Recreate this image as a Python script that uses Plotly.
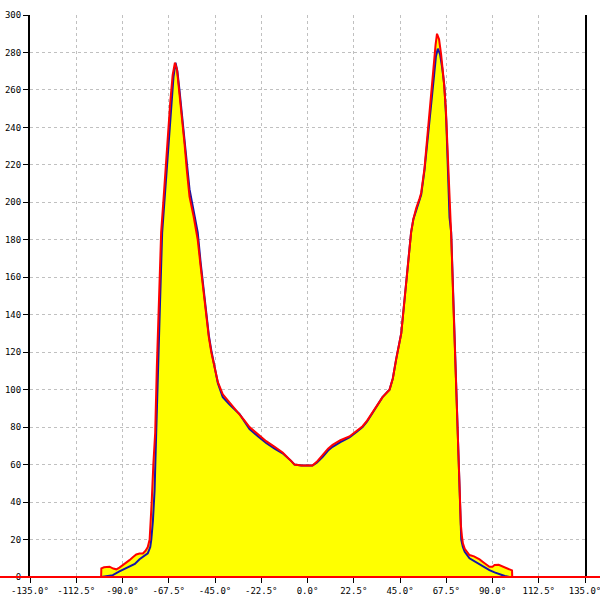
import plotly.graph_objects as go

# Blue series (angle in degrees, value)
blue_x = [-100.4, -97, -94.7, -91.5, -88.5, -86.6, -84, -81.7, -79.5, -77.7, -76.5, -76, -75.2, -74.4,
          -73.6, -72.8, -71.7, -70.7, -69.6, -68.5, -67.5, -66.3, -65.2, -64.2, -63.3, -62.3, -61, -59.8,
          -58.6, -57.4, -56, -55, -53.4, -52, -50.9, -49.3, -48, -46.8, -45, -43.6, -41.2, -37.9, -33.1,
          -28.2, -24, -20.1, -16, -12.1, -8, -6.3, -3, 0, 2.4, 4.5, 7.3, 10, 12.2, 16, 20.4, 24, 26.8, 29,
          31.7, 34, 36.5, 39.9, 41.5, 43.1, 45.6, 47.2, 48.8, 50.4, 51.5, 52.9, 54.5, 55.3, 56.9, 58, 59.4,
          60.5, 61.6, 62.5, 63.4, 64.5, 65.5, 66.6, 67.5, 68.3, 69.1, 69.9, 71, 72, 73.1, 73.9, 74.4, 74.8,
          75.6, 76.5, 78.8, 81, 83.7, 86, 88.5, 91, 93.4, 96, 98.3, 99.7]
blue_y = [0, 0.5, 1, 3, 4.5, 5.5, 7, 9.5, 11, 12.6, 16, 20, 30, 46,
          77, 112, 148, 184, 201, 220, 233, 251, 267, 274.5, 270, 260, 247, 233,
          220, 207, 199, 193, 184, 168, 157, 139, 129, 121, 110, 103.5, 96, 92, 87,
          79, 75, 71.5, 68.5, 66, 62, 60, 59.5, 59.5, 59.5, 61, 64, 67.5, 69.5, 72, 74.5, 77.5, 80, 83,
          87.5, 92, 96, 100, 106, 116, 130, 148, 166, 184, 191, 196, 201, 204, 217, 230, 244,
          256, 268, 278, 282, 279, 272, 262, 244, 217, 192, 184, 148, 112, 77, 41, 28, 20,
          16, 13.5, 10, 8.5, 7, 5, 3.7, 2.5, 1.4, 0.5, 0, 0]

# Red series
red_x = [-100.4, -100.3, -99, -96.3, -94.5, -93, -91.5, -89.8, -88, -86.6, -85, -83.3, -81.7, -80.1,
         -78.8, -77.7, -76.8, -76.5, -75.8, -75, -74.1, -73.3, -72.2, -71.2, -70.1, -69, -68,
         -66.8, -65.6, -64.5, -63.5, -62.3, -61, -59.8, -58.6, -57.4, -55.5, -53.4, -52, -50.9, -49.3,
         -48, -46.8, -45, -43.6, -41.2, -38.5, -35, -31, -28.2, -24, -20.1, -16, -12.1, -8, -6.3, -3,
         0, 2.4, 4.5, 7.3, 10, 12.2, 16, 20.4, 24, 26.8, 29, 31.7, 34, 36.5, 39.9, 41.5, 43.1, 45.6,
         47.2, 48.8, 50.4, 51.5, 52.9, 54.5, 55.3, 56.9, 58, 59.4, 60.5, 61.6, 62.3, 63, 64, 65, 66.3,
         67.3, 68.3, 69.1, 70, 71, 72.1, 73.2, 74, 74.6, 75.1, 75.6, 76.5, 78.8, 81, 83.7, 86, 88.5, 90,
         91, 93, 95, 98.3, 99.5, 99.6]
red_y = [0, 4.6, 5.2, 5.5, 4.5, 4.1, 5, 6.4, 7.5, 9, 10.5, 12, 12.5, 12.6,
         14, 16, 20, 25, 40, 60, 77, 112, 148, 184, 201, 220, 235,
         253, 268, 274.5, 271, 259, 245, 231, 216, 203, 193, 180, 166, 155, 138,
         128, 120, 110, 104, 97.5, 94, 89, 84, 80, 76, 72.5, 69.5, 66.5, 62, 60, 59.5,
         59.5, 59.5, 61.5, 65, 68.5, 70.5, 73, 75, 78, 80.5, 83.5, 88, 92.5, 96, 100, 106, 116, 130,
         148, 166, 184, 191, 197, 202, 205, 218, 232, 248, 262, 275, 284, 290, 287, 279, 265,
         250, 225, 200, 180, 145, 110, 75, 45, 28, 22, 18, 15, 11.7, 11, 9.4, 7.5, 5.5, 5.5,
         6.4, 6.5, 5.5, 4.1, 3.5, 0]

x_ticks = [-135, -112.5, -90, -67.5, -45, -22.5, 0, 22.5, 45, 67.5, 90, 112.5, 135]
x_tick_labels = [f"{v:.1f}\u00b0" for v in x_ticks]
y_ticks = list(range(0, 301, 20))

BLUE = "#1414a8"
RED = "#ff0000"
YELLOW = "#ffff00"

fig = go.Figure()
fig.add_trace(go.Scatter(x=red_x, y=red_y, mode="lines", fill="tozeroy", fillcolor=YELLOW,
                         line=dict(width=0, color=YELLOW), hoverinfo="skip", showlegend=False))
fig.add_trace(go.Scatter(x=blue_x, y=blue_y, mode="lines", fill="tozeroy", fillcolor=YELLOW,
                         line=dict(width=0, color=YELLOW), hoverinfo="skip", showlegend=False))
fig.add_trace(go.Scatter(x=blue_x, y=blue_y, mode="lines", line=dict(color=BLUE, width=2),
                         showlegend=False))
fig.add_trace(go.Scatter(x=red_x, y=red_y, mode="lines", line=dict(color=RED, width=2),
                         showlegend=False))

# red baseline across the whole width
fig.add_shape(type="line", xref="paper", yref="paper", x0=-0.2, x1=1.2, y0=0, y1=0,
              line=dict(color=RED, width=2), layer="above")

font = dict(family="DejaVu Sans Mono, monospace", size=9, color="black")
fig.update_layout(
    width=600, height=600,
    margin=dict(l=30, r=15, t=15, b=23),
    paper_bgcolor="white", plot_bgcolor="white",
    font=font,
    xaxis=dict(range=[-135, 135], tickvals=x_ticks, ticktext=x_tick_labels, automargin=False,
               ticklabeloverflow="allow",
               showgrid=True, gridcolor="#c0c0c0", griddash="3px,3px", gridwidth=1,
               zeroline=False, showline=True, linecolor="black", linewidth=1,
               ticks="outside", ticklen=5, tickcolor="black", tickfont=font),
    yaxis=dict(range=[0, 300], tickvals=y_ticks, automargin=False,
               ticklabeloverflow="allow",
               showgrid=True, gridcolor="#c0c0c0", griddash="3px,3px", gridwidth=1,
               zeroline=False, showline=True, linecolor="black", linewidth=2, mirror=True,
               ticks="outside", ticklen=5, tickcolor="black", tickfont=font),
)

fig.write_html("out.html", config={"displayModeBar": False},
               post_script="document.body.style.margin='0px';")
